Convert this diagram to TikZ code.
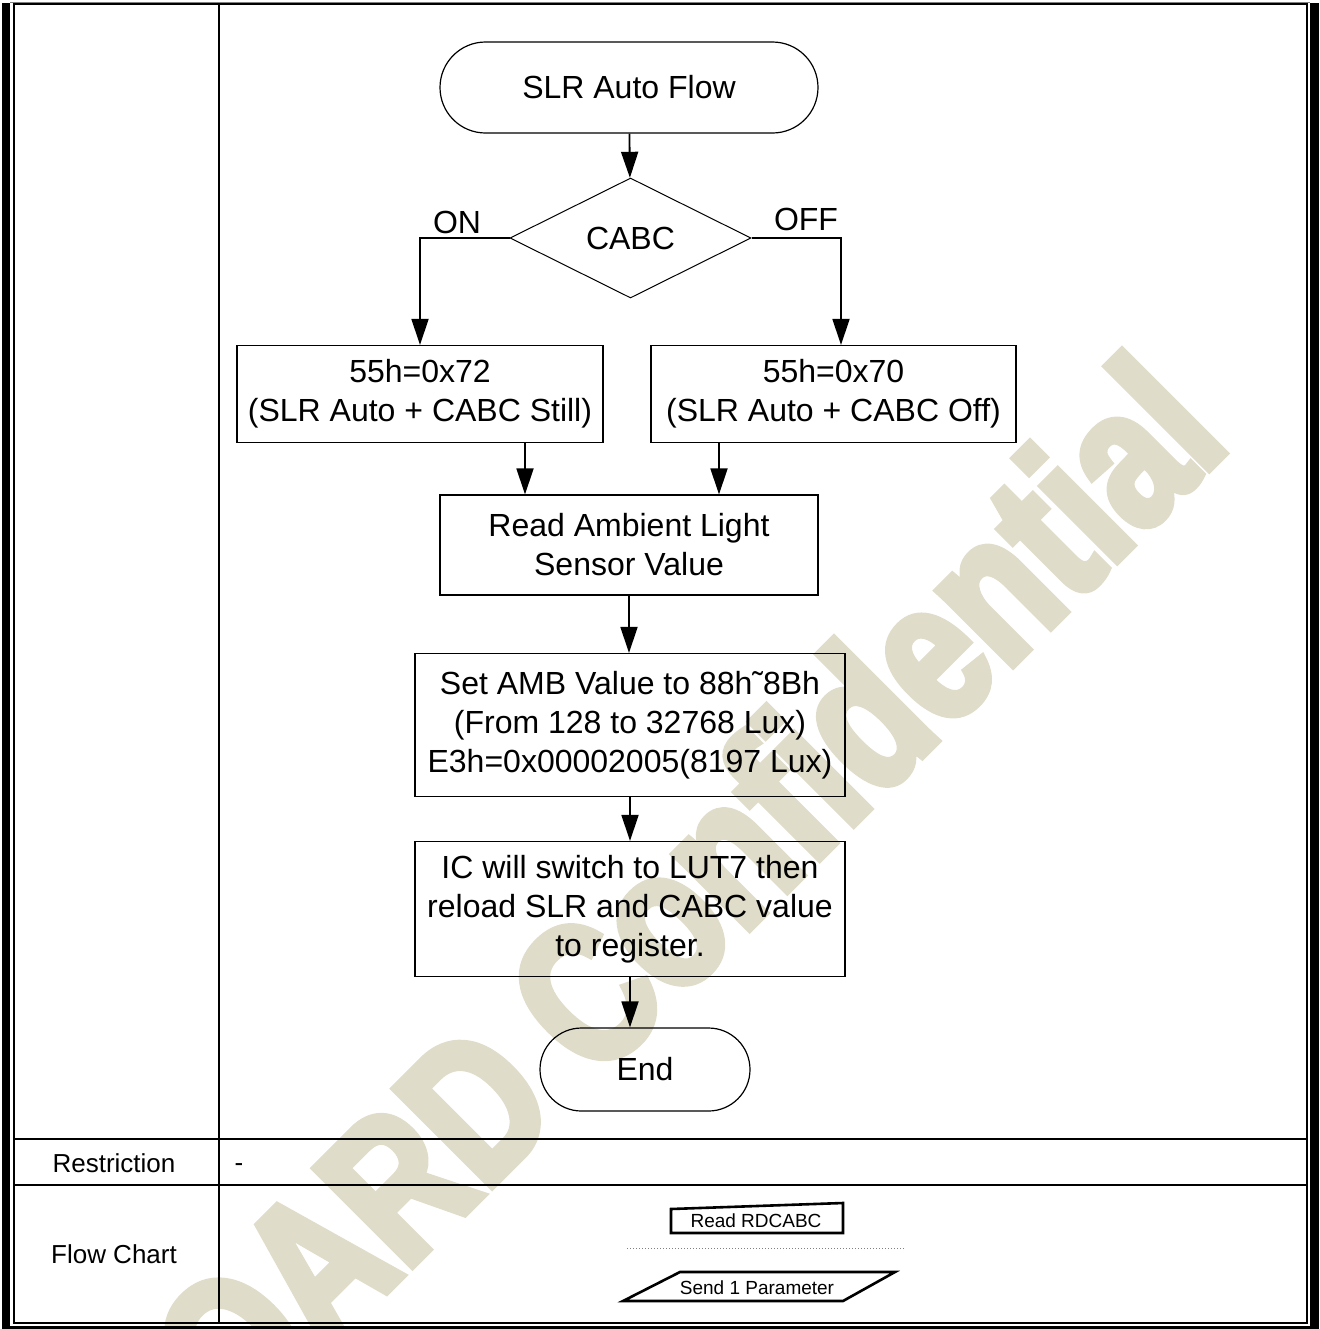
\documentclass[tikz,border=0pt]{standalone}
\usepackage{fontspec}
\setmainfont{Liberation Sans}
\newfontfamily\wmfont[FakeStretch=0.78,FakeBold=4]{Liberation Sans Bold}
\usetikzlibrary{shapes.geometric,arrows.meta}
\definecolor{wmtan}{RGB}{224,220,202}

\begin{document}
\begin{tikzpicture}[x=0.5pt,y=-0.5pt,
    box/.style={draw, line width=0.6pt, align=center, inner sep=0pt, font=\fontsize{16}{19.5}\selectfont},
    term/.style={box, rounded corners=#1},
    dec/.style={box, diamond, aspect=2, line width=0.5pt},
    arr/.style={-{Triangle[length=13pt,width=8.5pt]}, line width=0.9pt},
    link/.style={line width=0.7pt},
    rule/.style={line width=1pt},
    lbl/.style={font=\fontsize{16}{19.5}\selectfont, inner sep=0pt},
    cell/.style={font=\fontsize{13}{15}\selectfont, inner sep=0pt},
    tiny/.style={font=\fontsize{9.5}{11}\selectfont, inner sep=0pt}]
    \useasboundingbox (0,0) rectangle (1319,1329);

    \begin{scope}
        \clip (0,0) rectangle (1319,1329);
        \node[rotate=45, anchor=base, inner sep=0pt, text=wmtan,
            font=\fontsize{100}{100}\wmfont] (wm) at (736,942) {OARD Confidential};
    \end{scope}

    \fill (2,3) rectangle (10,1329);
    \fill (1310,3) rectangle (1319,1329);
    \fill (2,1325.5) rectangle (1319,1329);
    \draw[gray, line width=0.5pt] (10,2.5) -- (1310,2.5);
    \draw[rule] (13.7,4.3) rectangle (1307,1323);
    \draw[rule] (219,4.3) -- (219,1323);
    \draw[rule] (13.7,1139) -- (1307,1139);
    \draw[rule] (13.7,1185) -- (1307,1185);

    \node[cell] (restr) at (114,1163) {Restriction};
    \node[cell, anchor=base] (dash) at (239,1171) {-};
    \node[cell] (fchart) at (114,1254) {Flow Chart};

    \node[term=22.75pt, minimum width=189pt, minimum height=45.5pt] (start) at (629,87.5) {SLR Auto Flow};
    \node[dec, minimum width=120.5pt, minimum height=60pt] (cabc) at (630.5,238) {CABC};
    \node[box, minimum width=183pt, minimum height=48.5pt] (b72) at (420,394) {55h=0x72\\(SLR Auto + CABC Still)};
    \node[box, minimum width=182.5pt, minimum height=48.5pt] (b70) at (833.5,394) {55h=0x70\\(SLR Auto + CABC Off)};
    \node[box, minimum width=189pt, minimum height=50pt] (read) at (629,545) {Read Ambient Light\\Sensor Value};
    \node[box, minimum width=215pt, minimum height=71.5pt] (amb) at (630,725) {Set AMB Value to 88h\symbol{"02DC}8Bh\\(From 128 to 32768 Lux)\\E3h=0x00002005(8197 Lux)};
    \node[box, minimum width=215pt, minimum height=67.5pt] (lut) at (630,909) {IC will switch to LUT7 then\\reload SLR and CABC value\\to register.};
    \node[term=20.75pt, minimum width=105pt, minimum height=41.5pt] (end) at (645,1069.5) {End};

    \node[lbl] (on) at (457,222) {ON};
    \node[lbl] (off) at (806,219) {OFF};

    \draw[arr] (start) -- (cabc);
    \draw[link, arr] (cabc.west) -| (b72.north);
    \draw[link, arr] (cabc.east) -| ([xshift=3.75pt]b70.north);
    \draw[arr] ([xshift=52.5pt]b72.south) -- ([xshift=52.5pt]b72.south |- read.north);
    \draw[arr] ([xshift=-57.25pt]b70.south) -- ([xshift=-57.25pt]b70.south |- read.north);
    \draw[arr] (read.south) -- (read.south |- amb.north);
    \draw[arr] (amb.south) -- (amb.south |- lut.north);
    \draw[arr] (lut.south) -- (lut.south |- end.north);

    \node[tiny] (rdcabc) at (756,1221) {Read RDCABC};
    \draw[line width=1.3pt] (671,1209) -- (843,1203) -- (843,1233) -- (671,1233) -- cycle;
    \draw[gray, line width=0.5pt, densely dotted] (627,1248) -- (906,1248);
    \node[tiny] (send) at (757,1288) {Send 1 Parameter};
    \draw[line width=1.3pt] (623,1301) -- (680,1272) -- (895,1272) -- (843,1301) -- cycle;
\end{tikzpicture}
\end{document}
